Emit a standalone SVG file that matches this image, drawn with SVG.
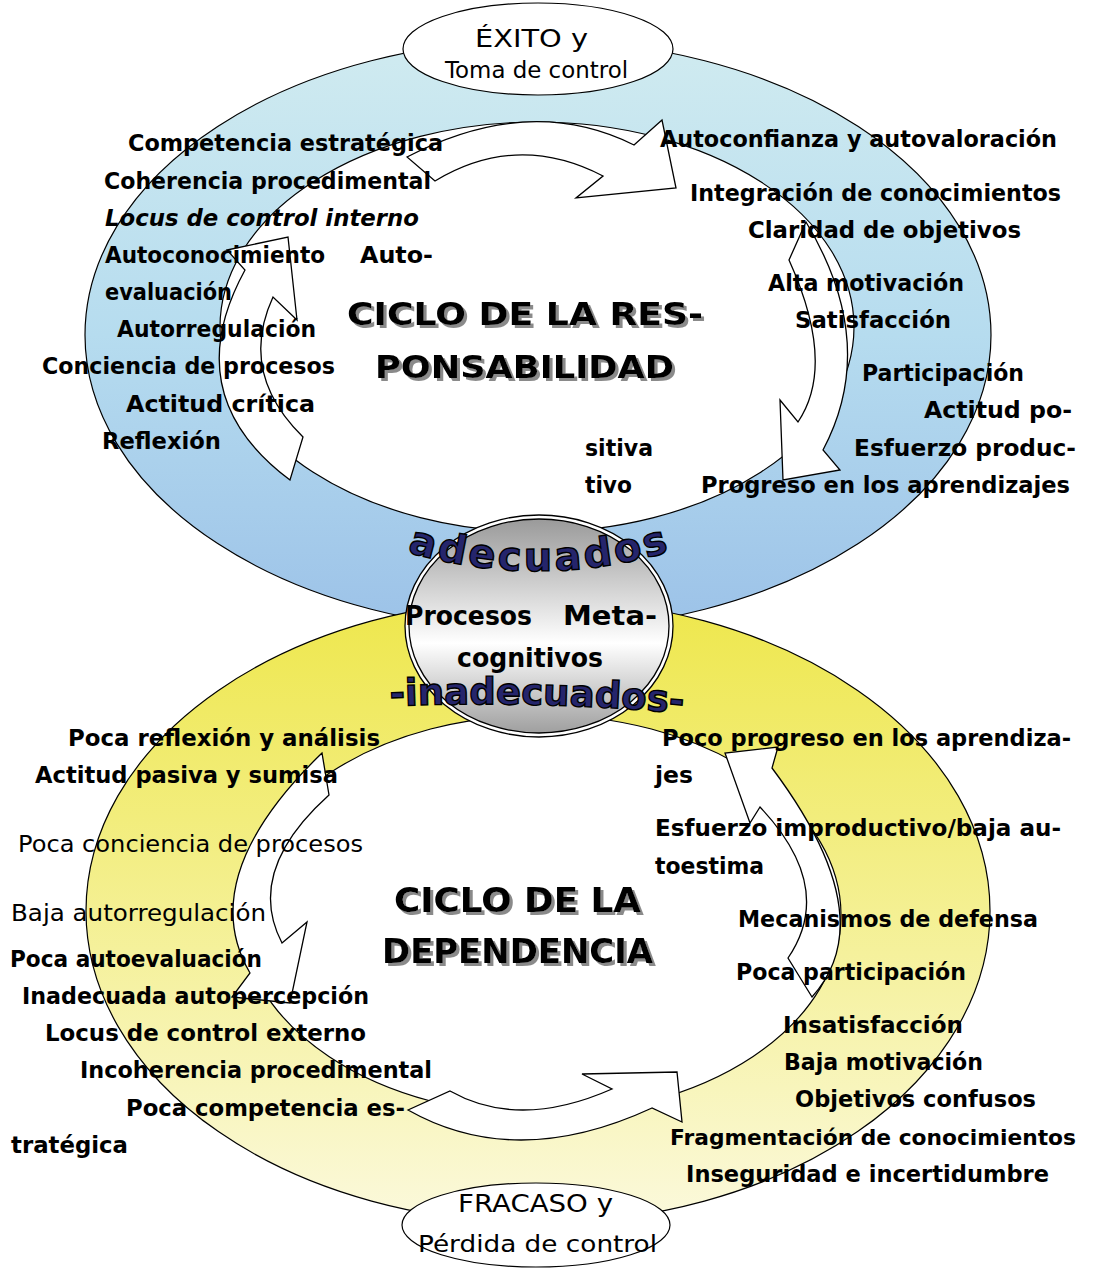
<svg xmlns="http://www.w3.org/2000/svg" width="1093" height="1271" viewBox="0 0 1093 1271">
<defs>
<linearGradient id="gBlue" gradientUnits="userSpaceOnUse" x1="0" y1="40" x2="0" y2="630">
<stop offset="0" stop-color="#d0ebf0"/><stop offset="0.5" stop-color="#b6dcef"/><stop offset="1" stop-color="#9cc2e8"/>
</linearGradient>
<linearGradient id="gYellow" gradientUnits="userSpaceOnUse" x1="0" y1="599" x2="0" y2="1223">
<stop offset="0" stop-color="#eee74c"/><stop offset="0.35" stop-color="#f2ed7c"/><stop offset="1" stop-color="#fbf9dc"/>
</linearGradient>
<linearGradient id="gGrey" gradientUnits="userSpaceOnUse" x1="0" y1="518" x2="0" y2="734">
<stop offset="0" stop-color="#999999"/><stop offset="0.58" stop-color="#ffffff"/><stop offset="1" stop-color="#9e9e9e"/>
</linearGradient>
<filter id="shadow" x="-5%" y="-20%" width="115%" height="150%">
<feOffset in="SourceAlpha" dx="3" dy="3" result="off"/>
<feFlood flood-color="#8a8a8a"/>
<feComposite in2="off" operator="in" result="sh"/>
<feMerge><feMergeNode in="sh"/><feMergeNode in="SourceGraphic"/></feMerge>
</filter>
<path id="pAde" d="M 407,552 Q 537,590 668,552"/>
<path id="pInade" d="M 390,706 Q 540,700 692,714"/>
</defs>
<style>
.ring{stroke:#000;stroke-width:1.2}
.hole{fill:#fff;stroke:#000;stroke-width:1.2}
.arrow{fill:#fff;stroke:#000;stroke-width:1.3;stroke-linejoin:miter}
.t{font-family:"DejaVu Sans","Liberation Sans",sans-serif;font-size:23px;font-weight:bold;fill:#000}
.n{font-weight:normal}
.i{font-style:italic}
.ttl{font-family:"DejaVu Sans","Liberation Sans",sans-serif;font-weight:bold;fill:#000;filter:url(#shadow)}
.wa{font-family:"DejaVu Sans","Liberation Sans",sans-serif;font-weight:bold;fill:#25256c;stroke:#000;stroke-width:1.4}
</style>
<rect width="1093" height="1271" fill="#fff"/>

<g id="ring-top">
<ellipse class="ring" cx="538" cy="335" rx="453" ry="295" fill="url(#gBlue)"/>
<ellipse class="hole" cx="537" cy="327" rx="317" ry="205"/>
</g>
<g id="ring-bottom">
<ellipse class="ring" cx="538" cy="911" rx="452" ry="312" fill="url(#gYellow)"/>
<ellipse class="hole" cx="541" cy="915" rx="300" ry="200"/>
</g>

<g id="connectors">
<path class="arrow" d="M 407,157 Q 529.5,93 634,145 L 662,120 L 676,188 L 576,198 L 603,176 Q 517,131.5 435,181 Z"/>
<path class="arrow" d="M 806,222 Q 879.5,344 823,450 L 840,470 L 783,480 L 780,400 L 798,422 Q 836.5,365 789,260 Z"/>
<path class="arrow" d="M 290,480 Q 176.5,395 245,270 L 227,250 L 288,237 L 297,320 L 273,297 Q 238,373 303,437 Z"/>
<path class="arrow" d="M 322,753 Q 194,877 250,973 L 232,997 L 290,1003 L 307,922 L 282,943 Q 244.5,871 329,795 Z"/>
<path class="arrow" d="M 408,1110 Q 516,1171 652,1108 L 682,1122 L 677,1072 L 582,1074 L 612,1089 Q 519,1130 450,1091 Z"/>
<path class="arrow" d="M 812,997 Q 884,917.5 772,768 L 778,747 L 725,753 L 750,823 L 760,807 Q 836,887.5 788,958 Z"/>
</g>

<g id="node-metacognitivos">
<ellipse cx="539" cy="626" rx="134" ry="111" fill="#fff" stroke="#000" stroke-width="1.3"/>
<ellipse cx="539" cy="626" rx="130" ry="107" fill="url(#gGrey)" stroke="#000" stroke-width="1.3"/>
<text class="t" style="font-size:27px" x="405" y="625" textLength="127" lengthAdjust="spacingAndGlyphs">Procesos</text>
<text class="t" style="font-size:27px" x="563" y="625" textLength="94" lengthAdjust="spacingAndGlyphs">Meta-</text>
<text class="t" style="font-size:27px" x="457" y="667" textLength="146" lengthAdjust="spacingAndGlyphs">cognitivos</text>
<text class="wa" style="font-size:40px;letter-spacing:3px"><textPath href="#pAde">adecuados</textPath></text>
<text class="wa" style="font-size:37px"><textPath href="#pInade">-inadecuados-</textPath></text>
</g>

<g id="node-exito">
<ellipse cx="538" cy="49" rx="135" ry="46" fill="#fff" stroke="#000" stroke-width="1.2"/>
<text class="t n" style="font-size:24px" x="475" y="47" textLength="113" lengthAdjust="spacingAndGlyphs">ÉXITO y</text>
<text class="t n" style="font-size:23px" x="445" y="78" textLength="183" lengthAdjust="spacingAndGlyphs">Toma de control</text>
</g>

<g id="node-fracaso">
<ellipse cx="536" cy="1225" rx="134" ry="42" fill="#fff" stroke="#000" stroke-width="1.2"/>
<text class="t n" style="font-size:24px" x="458" y="1212" textLength="155" lengthAdjust="spacingAndGlyphs">FRACASO y</text>
<text class="t n" style="font-size:23px" x="418" y="1252" textLength="239" lengthAdjust="spacingAndGlyphs">Pérdida de control</text>
</g>

<g id="title-top">
<text class="ttl" style="font-size:32px" x="347" y="325" textLength="356" lengthAdjust="spacingAndGlyphs">CICLO DE LA RES-</text>
<text class="ttl" style="font-size:32px" x="375" y="378" textLength="299" lengthAdjust="spacingAndGlyphs">PONSABILIDAD</text>
</g>
<g id="title-bottom">
<text class="ttl" style="font-size:34px" x="394" y="912" textLength="247" lengthAdjust="spacingAndGlyphs">CICLO DE LA</text>
<text class="ttl" style="font-size:34px" x="382" y="963" textLength="271" lengthAdjust="spacingAndGlyphs">DEPENDENCIA</text>
</g>

<g id="labels-top-left">
<text class="t" x="128" y="151" textLength="315" lengthAdjust="spacingAndGlyphs">Competencia estratégica</text>
<text class="t" x="104" y="189" textLength="327" lengthAdjust="spacingAndGlyphs">Coherencia procedimental</text>
<text class="t i" x="105" y="226" textLength="314" lengthAdjust="spacingAndGlyphs">Locus de control interno</text>
<text class="t" x="105" y="263" textLength="220" lengthAdjust="spacingAndGlyphs">Autoconocimiento</text>
<text class="t" x="360" y="263" textLength="73" lengthAdjust="spacingAndGlyphs">Auto-</text>
<text class="t" x="105" y="300" textLength="127" lengthAdjust="spacingAndGlyphs">evaluación</text>
<text class="t" x="117" y="337" textLength="199" lengthAdjust="spacingAndGlyphs">Autorregulación</text>
<text class="t" x="42" y="374" textLength="293" lengthAdjust="spacingAndGlyphs">Conciencia de procesos</text>
<text class="t" x="126" y="412" textLength="189" lengthAdjust="spacingAndGlyphs">Actitud crítica</text>
<text class="t" x="102" y="449" textLength="119" lengthAdjust="spacingAndGlyphs">Reflexión</text>
<text class="t" x="585" y="456" textLength="68" lengthAdjust="spacingAndGlyphs">sitiva</text>
<text class="t" x="585" y="493" textLength="47" lengthAdjust="spacingAndGlyphs">tivo</text>
</g>

<g id="labels-top-right">
<text class="t" x="660" y="147" textLength="397" lengthAdjust="spacingAndGlyphs">Autoconfianza y autovaloración</text>
<text class="t" x="690" y="201" textLength="371" lengthAdjust="spacingAndGlyphs">Integración de conocimientos</text>
<text class="t" x="748" y="238" textLength="273" lengthAdjust="spacingAndGlyphs">Claridad de objetivos</text>
<text class="t" x="768" y="291" textLength="196" lengthAdjust="spacingAndGlyphs">Alta motivación</text>
<text class="t" x="795" y="328" textLength="156" lengthAdjust="spacingAndGlyphs">Satisfacción</text>
<text class="t" x="862" y="381" textLength="162" lengthAdjust="spacingAndGlyphs">Participación</text>
<text class="t" x="924" y="418" textLength="148" lengthAdjust="spacingAndGlyphs">Actitud po-</text>
<text class="t" x="854" y="456" textLength="222" lengthAdjust="spacingAndGlyphs">Esfuerzo produc-</text>
<text class="t" x="701" y="493" textLength="369" lengthAdjust="spacingAndGlyphs">Progreso en los aprendizajes</text>
</g>

<g id="labels-bottom-left">
<text class="t" x="68" y="746" textLength="312" lengthAdjust="spacingAndGlyphs">Poca reflexión y análisis</text>
<text class="t" x="35" y="783" textLength="303" lengthAdjust="spacingAndGlyphs">Actitud pasiva y sumisa</text>
<text class="t n" x="18" y="852" textLength="345" lengthAdjust="spacingAndGlyphs">Poca conciencia de procesos</text>
<text class="t n" x="11" y="921" textLength="255" lengthAdjust="spacingAndGlyphs">Baja autorregulación</text>
<text class="t" x="10" y="967" textLength="252" lengthAdjust="spacingAndGlyphs">Poca autoevaluación</text>
<text class="t" x="22" y="1004" textLength="347" lengthAdjust="spacingAndGlyphs">Inadecuada autopercepción</text>
<text class="t" x="45" y="1041" textLength="321" lengthAdjust="spacingAndGlyphs">Locus de control externo</text>
<text class="t" x="80" y="1078" textLength="352" lengthAdjust="spacingAndGlyphs">Incoherencia procedimental</text>
<text class="t" x="126" y="1116" textLength="279" lengthAdjust="spacingAndGlyphs">Poca competencia es-</text>
<text class="t" x="11" y="1153" textLength="117" lengthAdjust="spacingAndGlyphs">tratégica</text>
</g>

<g id="labels-bottom-right">
<text class="t" x="662" y="746" textLength="409" lengthAdjust="spacingAndGlyphs">Poco progreso en los aprendiza-</text>
<text class="t" x="655" y="783" textLength="38" lengthAdjust="spacingAndGlyphs">jes</text>
<text class="t" x="655" y="836" textLength="406" lengthAdjust="spacingAndGlyphs">Esfuerzo improductivo/baja au-</text>
<text class="t" x="655" y="874" textLength="109" lengthAdjust="spacingAndGlyphs">toestima</text>
<text class="t" x="738" y="927" textLength="300" lengthAdjust="spacingAndGlyphs">Mecanismos de defensa</text>
<text class="t" x="736" y="980" textLength="230" lengthAdjust="spacingAndGlyphs">Poca participación</text>
<text class="t" x="783" y="1033" textLength="180" lengthAdjust="spacingAndGlyphs">Insatisfacción</text>
<text class="t" x="784" y="1070" textLength="199" lengthAdjust="spacingAndGlyphs">Baja motivación</text>
<text class="t" x="795" y="1107" textLength="241" lengthAdjust="spacingAndGlyphs">Objetivos confusos</text>
<text class="t" style="font-size:21.5px" x="670" y="1145" textLength="406" lengthAdjust="spacingAndGlyphs">Fragmentación de conocimientos</text>
<text class="t" x="686" y="1182" textLength="363" lengthAdjust="spacingAndGlyphs">Inseguridad e incertidumbre</text>
</g>
</svg>
